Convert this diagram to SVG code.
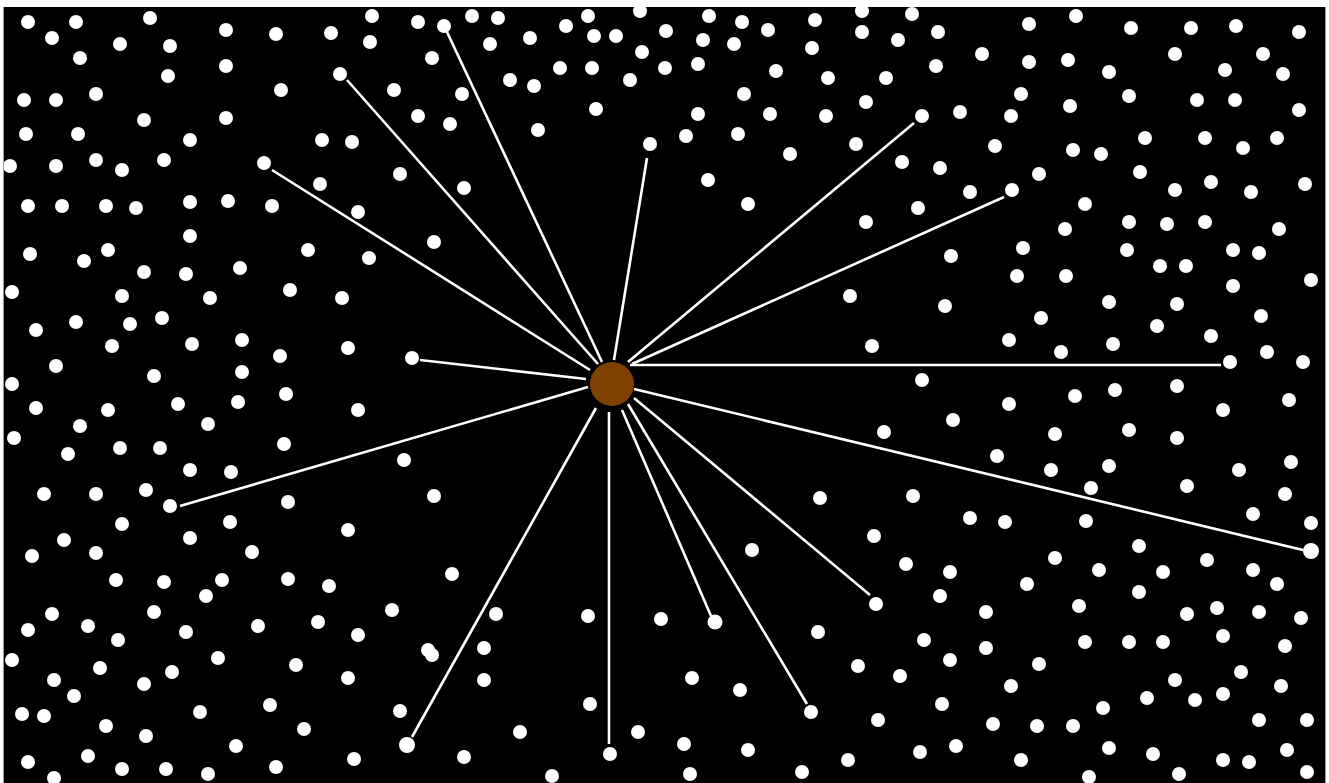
<svg xmlns="http://www.w3.org/2000/svg" width="1329" height="783" viewBox="0 0 1329 783">
<style>
.d{fill:#fff}
.e{fill:#fff}
.c line{stroke:#fff;stroke-width:2.6;stroke-linecap:butt}
.hub{fill:#7f4000}
.edge{stroke:#9a9a9a;stroke-width:1}
</style>
<defs>
<clipPath id="clip"><rect x="4" y="7" width="1321" height="776"/></clipPath>
</defs>
<rect width="1329" height="783" fill="#fff"/>
<rect x="3" y="7" width="1323" height="776" fill="#000"/>
<line class="edge" x1="3.5" y1="7" x2="3.5" y2="783"/>
<line class="edge" x1="1325.5" y1="7" x2="1325.5" y2="783"/>
<g clip-path="url(#clip)">
<g id="stars" class="d">
<circle cx="28" cy="22" r="7"/><circle cx="76" cy="22" r="7"/><circle cx="150" cy="18" r="7"/><circle cx="52" cy="38" r="7"/><circle cx="120" cy="44" r="7"/><circle cx="170" cy="46" r="7"/><circle cx="226" cy="30" r="7"/><circle cx="276" cy="34" r="7"/><circle cx="331" cy="33" r="7"/><circle cx="80" cy="58" r="7"/><circle cx="168" cy="76" r="7"/><circle cx="226" cy="66" r="7"/><circle cx="281" cy="90" r="7"/><circle cx="24" cy="100" r="7"/><circle cx="56" cy="100" r="7"/><circle cx="96" cy="94" r="7"/><circle cx="144" cy="120" r="7"/><circle cx="226" cy="118" r="7"/><circle cx="26" cy="134" r="7"/><circle cx="78" cy="134" r="7"/><circle cx="190" cy="140" r="7"/><circle cx="322" cy="140" r="7"/><circle cx="10" cy="166" r="7"/><circle cx="56" cy="166" r="7"/><circle cx="96" cy="160" r="7"/><circle cx="122" cy="170" r="7"/><circle cx="164" cy="160" r="7"/><circle cx="320" cy="184" r="7"/><circle cx="28" cy="206" r="7"/><circle cx="62" cy="206" r="7"/><circle cx="106" cy="206" r="7"/><circle cx="136" cy="208" r="7"/><circle cx="190" cy="202" r="7"/><circle cx="228" cy="201" r="7"/><circle cx="272" cy="206" r="7"/><circle cx="190" cy="236" r="7"/><circle cx="30" cy="254" r="7"/><circle cx="108" cy="250" r="7"/><circle cx="308" cy="250" r="7"/><circle cx="84" cy="261" r="7"/>
<circle cx="372" cy="16" r="7"/><circle cx="418" cy="22" r="7"/><circle cx="472" cy="16" r="7"/><circle cx="498" cy="18" r="7"/><circle cx="370" cy="42" r="7"/><circle cx="490" cy="44" r="7"/><circle cx="530" cy="38" r="7"/><circle cx="566" cy="26" r="7"/><circle cx="588" cy="16" r="7"/><circle cx="594" cy="36" r="7"/><circle cx="616" cy="36" r="7"/><circle cx="640" cy="11" r="7"/><circle cx="642" cy="52" r="7"/><circle cx="432" cy="58" r="7"/><circle cx="394" cy="90" r="7"/><circle cx="462" cy="94" r="7"/><circle cx="510" cy="80" r="7"/><circle cx="534" cy="86" r="7"/><circle cx="560" cy="68" r="7"/><circle cx="592" cy="68" r="7"/><circle cx="630" cy="80" r="7"/><circle cx="596" cy="109" r="7"/><circle cx="538" cy="130" r="7"/><circle cx="418" cy="116" r="7"/><circle cx="450" cy="124" r="7"/><circle cx="352" cy="142" r="7"/><circle cx="400" cy="174" r="7"/><circle cx="464" cy="188" r="7"/><circle cx="358" cy="212" r="7"/><circle cx="434" cy="242" r="7"/><circle cx="369" cy="258" r="7"/>
<circle cx="709" cy="16" r="7"/><circle cx="742" cy="22" r="7"/><circle cx="768" cy="30" r="7"/><circle cx="815" cy="20" r="7"/><circle cx="862" cy="11" r="7"/><circle cx="912" cy="14" r="7"/><circle cx="666" cy="31" r="7"/><circle cx="703" cy="40" r="7"/><circle cx="734" cy="44" r="7"/><circle cx="812" cy="48" r="7"/><circle cx="862" cy="32" r="7"/><circle cx="898" cy="40" r="7"/><circle cx="938" cy="32" r="7"/><circle cx="982" cy="54" r="7"/><circle cx="665" cy="68" r="7"/><circle cx="698" cy="64" r="7"/><circle cx="776" cy="71" r="7"/><circle cx="828" cy="78" r="7"/><circle cx="886" cy="78" r="7"/><circle cx="936" cy="66" r="7"/><circle cx="744" cy="94" r="7"/><circle cx="698" cy="114" r="7"/><circle cx="770" cy="114" r="7"/><circle cx="826" cy="116" r="7"/><circle cx="866" cy="102" r="7"/><circle cx="960" cy="112" r="7"/><circle cx="686" cy="136" r="7"/><circle cx="738" cy="134" r="7"/><circle cx="856" cy="144" r="7"/><circle cx="995" cy="146" r="7"/><circle cx="790" cy="154" r="7"/><circle cx="902" cy="162" r="7"/><circle cx="940" cy="168" r="7"/><circle cx="708" cy="180" r="7"/><circle cx="970" cy="192" r="7"/><circle cx="748" cy="204" r="7"/><circle cx="918" cy="208" r="7"/><circle cx="866" cy="222" r="7"/><circle cx="951" cy="256" r="7"/>
<circle cx="1029" cy="24" r="7"/><circle cx="1076" cy="16" r="7"/><circle cx="1131" cy="28" r="7"/><circle cx="1191" cy="28" r="7"/><circle cx="1236" cy="26" r="7"/><circle cx="1299" cy="32" r="7"/><circle cx="1029" cy="62" r="7"/><circle cx="1068" cy="60" r="7"/><circle cx="1109" cy="72" r="7"/><circle cx="1175" cy="54" r="7"/><circle cx="1225" cy="70" r="7"/><circle cx="1263" cy="54" r="7"/><circle cx="1283" cy="74" r="7"/><circle cx="1021" cy="94" r="7"/><circle cx="1011" cy="116" r="7"/><circle cx="1070" cy="106" r="7"/><circle cx="1129" cy="96" r="7"/><circle cx="1197" cy="100" r="7"/><circle cx="1235" cy="100" r="7"/><circle cx="1299" cy="110" r="7"/><circle cx="1073" cy="150" r="7"/><circle cx="1101" cy="154" r="7"/><circle cx="1145" cy="138" r="7"/><circle cx="1205" cy="138" r="7"/><circle cx="1243" cy="148" r="7"/><circle cx="1277" cy="138" r="7"/><circle cx="1039" cy="174" r="7"/><circle cx="1140" cy="172" r="7"/><circle cx="1085" cy="204" r="7"/><circle cx="1175" cy="190" r="7"/><circle cx="1211" cy="182" r="7"/><circle cx="1251" cy="192" r="7"/><circle cx="1305" cy="184" r="7"/><circle cx="1065" cy="229" r="7"/><circle cx="1129" cy="222" r="7"/><circle cx="1167" cy="224" r="7"/><circle cx="1205" cy="222" r="7"/><circle cx="1279" cy="229" r="7"/><circle cx="1023" cy="248" r="7"/><circle cx="1127" cy="250" r="7"/><circle cx="1233" cy="250" r="7"/><circle cx="1259" cy="253" r="7"/>
<circle cx="144" cy="272" r="7"/><circle cx="186" cy="274" r="7"/><circle cx="240" cy="268" r="7"/><circle cx="12" cy="292" r="7"/><circle cx="122" cy="296" r="7"/><circle cx="210" cy="298" r="7"/><circle cx="290" cy="290" r="7"/><circle cx="36" cy="330" r="7"/><circle cx="76" cy="322" r="7"/><circle cx="130" cy="324" r="7"/><circle cx="162" cy="318" r="7"/><circle cx="112" cy="346" r="7"/><circle cx="192" cy="344" r="7"/><circle cx="242" cy="340" r="7"/><circle cx="280" cy="356" r="7"/><circle cx="56" cy="366" r="7"/><circle cx="154" cy="376" r="7"/><circle cx="242" cy="372" r="7"/><circle cx="12" cy="384" r="7"/><circle cx="286" cy="394" r="7"/><circle cx="36" cy="408" r="7"/><circle cx="108" cy="410" r="7"/><circle cx="178" cy="404" r="7"/><circle cx="238" cy="402" r="7"/><circle cx="80" cy="426" r="7"/><circle cx="208" cy="424" r="7"/><circle cx="14" cy="438" r="7"/><circle cx="68" cy="454" r="7"/><circle cx="120" cy="448" r="7"/><circle cx="160" cy="448" r="7"/><circle cx="284" cy="444" r="7"/><circle cx="190" cy="470" r="7"/><circle cx="231" cy="472" r="7"/><circle cx="44" cy="494" r="7"/><circle cx="96" cy="494" r="7"/><circle cx="146" cy="490" r="7"/><circle cx="288" cy="502" r="7"/><circle cx="122" cy="524" r="7"/><circle cx="230" cy="522" r="7"/>
<circle cx="342" cy="298" r="7"/><circle cx="348" cy="348" r="7"/><circle cx="358" cy="410" r="7"/><circle cx="404" cy="460" r="7"/><circle cx="434" cy="496" r="7"/>
<circle cx="850" cy="296" r="7"/><circle cx="945" cy="306" r="7"/><circle cx="872" cy="346" r="7"/><circle cx="922" cy="380" r="7"/><circle cx="953" cy="420" r="7"/><circle cx="884" cy="432" r="7"/><circle cx="997" cy="456" r="7"/><circle cx="820" cy="498" r="7"/><circle cx="913" cy="496" r="7"/><circle cx="970" cy="518" r="7"/>
<circle cx="1160" cy="266" r="7"/><circle cx="1186" cy="266" r="7"/><circle cx="1017" cy="276" r="7"/><circle cx="1066" cy="276" r="7"/><circle cx="1233" cy="286" r="7"/><circle cx="1311" cy="280" r="7"/><circle cx="1109" cy="302" r="7"/><circle cx="1177" cy="304" r="7"/><circle cx="1041" cy="318" r="7"/><circle cx="1157" cy="326" r="7"/><circle cx="1261" cy="316" r="7"/><circle cx="1009" cy="340" r="7"/><circle cx="1061" cy="352" r="7"/><circle cx="1113" cy="344" r="7"/><circle cx="1211" cy="336" r="7"/><circle cx="1267" cy="352" r="7"/><circle cx="1303" cy="362" r="7"/><circle cx="1075" cy="396" r="7"/><circle cx="1115" cy="390" r="7"/><circle cx="1177" cy="386" r="7"/><circle cx="1009" cy="404" r="7"/><circle cx="1223" cy="410" r="7"/><circle cx="1289" cy="400" r="7"/><circle cx="1055" cy="434" r="7"/><circle cx="1129" cy="430" r="7"/><circle cx="1177" cy="438" r="7"/><circle cx="1051" cy="470" r="7"/><circle cx="1109" cy="466" r="7"/><circle cx="1239" cy="470" r="7"/><circle cx="1291" cy="462" r="7"/><circle cx="1091" cy="488" r="7"/><circle cx="1187" cy="486" r="7"/><circle cx="1285" cy="494" r="7"/><circle cx="1253" cy="514" r="7"/><circle cx="1005" cy="522" r="7"/><circle cx="1086" cy="521" r="7"/><circle cx="1311" cy="523" r="7"/>
<circle cx="64" cy="540" r="7"/><circle cx="190" cy="538" r="7"/><circle cx="32" cy="556" r="7"/><circle cx="96" cy="553" r="7"/><circle cx="252" cy="552" r="7"/><circle cx="116" cy="580" r="7"/><circle cx="164" cy="582" r="7"/><circle cx="222" cy="580" r="7"/><circle cx="206" cy="596" r="7"/><circle cx="288" cy="579" r="7"/><circle cx="329" cy="586" r="7"/><circle cx="52" cy="614" r="7"/><circle cx="154" cy="612" r="7"/><circle cx="28" cy="630" r="7"/><circle cx="88" cy="626" r="7"/><circle cx="118" cy="640" r="7"/><circle cx="186" cy="632" r="7"/><circle cx="258" cy="626" r="7"/><circle cx="318" cy="622" r="7"/><circle cx="12" cy="660" r="7"/><circle cx="100" cy="668" r="7"/><circle cx="172" cy="672" r="7"/><circle cx="218" cy="658" r="7"/><circle cx="296" cy="665" r="7"/><circle cx="144" cy="684" r="7"/><circle cx="54" cy="680" r="7"/><circle cx="74" cy="696" r="7"/><circle cx="270" cy="705" r="7"/><circle cx="22" cy="714" r="7"/><circle cx="44" cy="716" r="7"/><circle cx="200" cy="712" r="7"/><circle cx="106" cy="726" r="7"/><circle cx="146" cy="736" r="7"/><circle cx="304" cy="729" r="7"/><circle cx="236" cy="746" r="7"/><circle cx="88" cy="756" r="7"/><circle cx="28" cy="762" r="7"/><circle cx="122" cy="769" r="7"/><circle cx="166" cy="769" r="7"/><circle cx="276" cy="767" r="7"/><circle cx="208" cy="774" r="7"/><circle cx="54" cy="778" r="7"/>
<circle cx="348" cy="530" r="7"/><circle cx="452" cy="574" r="7"/><circle cx="392" cy="610" r="7"/><circle cx="496" cy="614" r="7"/><circle cx="588" cy="616" r="7"/><circle cx="661" cy="619" r="7"/><circle cx="358" cy="635" r="7"/><circle cx="428" cy="650" r="7"/><circle cx="432" cy="655" r="7"/><circle cx="484" cy="648" r="7"/><circle cx="348" cy="678" r="7"/><circle cx="484" cy="680" r="7"/><circle cx="590" cy="704" r="7"/><circle cx="400" cy="711" r="7"/><circle cx="520" cy="732" r="7"/><circle cx="638" cy="732" r="7"/><circle cx="354" cy="759" r="7"/><circle cx="464" cy="757" r="7"/><circle cx="552" cy="776" r="7"/>
<circle cx="874" cy="536" r="7"/><circle cx="752" cy="550" r="7"/><circle cx="906" cy="564" r="7"/><circle cx="950" cy="572" r="7"/><circle cx="940" cy="596" r="7"/><circle cx="986" cy="612" r="7"/><circle cx="818" cy="632" r="7"/><circle cx="924" cy="640" r="7"/><circle cx="986" cy="648" r="7"/><circle cx="950" cy="660" r="7"/><circle cx="858" cy="666" r="7"/><circle cx="900" cy="676" r="7"/><circle cx="692" cy="678" r="7"/><circle cx="740" cy="690" r="7"/><circle cx="942" cy="704" r="7"/><circle cx="878" cy="720" r="7"/><circle cx="993" cy="724" r="7"/><circle cx="684" cy="744" r="7"/><circle cx="748" cy="750" r="7"/><circle cx="920" cy="752" r="7"/><circle cx="956" cy="746" r="7"/><circle cx="848" cy="760" r="7"/><circle cx="690" cy="774" r="7"/><circle cx="802" cy="772" r="7"/>
<circle cx="1139" cy="546" r="7"/><circle cx="1055" cy="558" r="7"/><circle cx="1099" cy="570" r="7"/><circle cx="1163" cy="572" r="7"/><circle cx="1207" cy="560" r="7"/><circle cx="1253" cy="570" r="7"/><circle cx="1027" cy="584" r="7"/><circle cx="1139" cy="592" r="7"/><circle cx="1277" cy="584" r="7"/><circle cx="1079" cy="606" r="7"/><circle cx="1187" cy="614" r="7"/><circle cx="1217" cy="608" r="7"/><circle cx="1259" cy="612" r="7"/><circle cx="1301" cy="618" r="7"/><circle cx="1085" cy="642" r="7"/><circle cx="1129" cy="642" r="7"/><circle cx="1163" cy="642" r="7"/><circle cx="1223" cy="636" r="7"/><circle cx="1285" cy="646" r="7"/><circle cx="1039" cy="664" r="7"/><circle cx="1241" cy="672" r="7"/><circle cx="1011" cy="686" r="7"/><circle cx="1175" cy="680" r="7"/><circle cx="1147" cy="698" r="7"/><circle cx="1195" cy="700" r="7"/><circle cx="1223" cy="694" r="7"/><circle cx="1281" cy="686" r="7"/><circle cx="1103" cy="708" r="7"/><circle cx="1037" cy="726" r="7"/><circle cx="1073" cy="726" r="7"/><circle cx="1259" cy="720" r="7"/><circle cx="1307" cy="720" r="7"/><circle cx="1109" cy="748" r="7"/><circle cx="1153" cy="754" r="7"/><circle cx="1021" cy="760" r="7"/><circle cx="1223" cy="760" r="7"/><circle cx="1249" cy="762" r="7"/><circle cx="1287" cy="750" r="7"/><circle cx="1089" cy="777" r="7"/><circle cx="1179" cy="774" r="7"/><circle cx="1307" cy="772" r="7"/>
</g>
<g id="connectors" class="c">
<line x1="602" y1="362" x2="447" y2="32"/>
<line x1="598" y1="364" x2="347" y2="80"/>
<line x1="590" y1="370" x2="272" y2="170"/>
<line x1="614" y1="360" x2="647" y2="158"/>
<line x1="628" y1="362" x2="914" y2="123"/>
<line x1="632" y1="364" x2="1004" y2="197"/>
<line x1="586" y1="379" x2="420" y2="360"/>
<line x1="630" y1="365" x2="1221" y2="365"/>
<line x1="588" y1="387" x2="180" y2="506"/>
<line x1="634" y1="389" x2="1303" y2="550"/>
<line x1="634" y1="398" x2="870" y2="595"/>
<line x1="622" y1="410" x2="711" y2="616"/>
<line x1="628" y1="404" x2="807" y2="704"/>
<line x1="609" y1="412" x2="609" y2="744"/>
<line x1="596" y1="408" x2="412" y2="737"/>
</g>
<g id="n1" class="e"><circle cx="444" cy="26" r="7"/></g>
<g id="n2" class="e"><circle cx="340" cy="74" r="7"/></g>
<g id="n3" class="e"><circle cx="264" cy="163" r="7"/></g>
<g id="n4" class="e"><circle cx="650" cy="144" r="7"/></g>
<g id="n5" class="e"><circle cx="922" cy="116" r="7"/></g>
<g id="n6" class="e"><circle cx="1012" cy="190" r="7"/></g>
<g id="n7" class="e"><circle cx="412" cy="358" r="7"/></g>
<g id="n8" class="e"><circle cx="1230" cy="362" r="7"/></g>
<g id="n9" class="e"><circle cx="170" cy="506" r="7"/></g>
<g id="n10" class="e"><circle cx="1311" cy="551" r="8"/></g>
<g id="n11" class="e"><circle cx="876" cy="604" r="7"/></g>
<g id="n12" class="e"><circle cx="715" cy="622" r="7.5"/></g>
<g id="n13" class="e"><circle cx="811" cy="712" r="7"/></g>
<g id="n14" class="e"><circle cx="610" cy="754" r="7"/></g>
<g id="n15" class="e"><circle cx="407" cy="745" r="8"/></g>
<g id="hub"><circle class="hub" cx="612" cy="384" r="22"/></g>
</g>
</svg>
